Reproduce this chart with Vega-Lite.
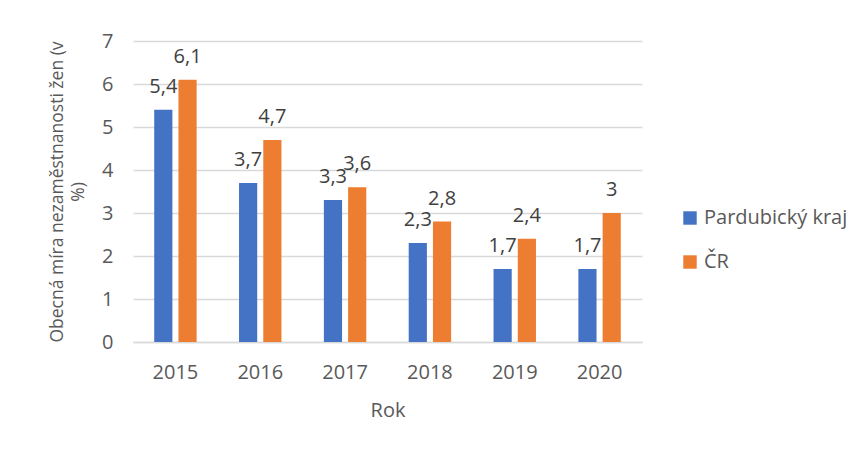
{
  "$schema": "https://vega.github.io/schema/vega-lite/v6.json",
  "autosize": "none",
  "width": 509,
  "height": 301,
  "padding": {"left": 133, "top": 41, "right": 221, "bottom": 110},
  "background": "white",
  "data": {
    "values": [
      {"rok": "2015", "serie": "Pardubický kraj", "hodnota": 5.4},
      {"rok": "2015", "serie": "ČR", "hodnota": 6.1},
      {"rok": "2016", "serie": "Pardubický kraj", "hodnota": 3.7},
      {"rok": "2016", "serie": "ČR", "hodnota": 4.7},
      {"rok": "2017", "serie": "Pardubický kraj", "hodnota": 3.3},
      {"rok": "2017", "serie": "ČR", "hodnota": 3.6},
      {"rok": "2018", "serie": "Pardubický kraj", "hodnota": 2.3},
      {"rok": "2018", "serie": "ČR", "hodnota": 2.8},
      {"rok": "2019", "serie": "Pardubický kraj", "hodnota": 1.7},
      {"rok": "2019", "serie": "ČR", "hodnota": 2.4},
      {"rok": "2020", "serie": "Pardubický kraj", "hodnota": 1.7},
      {"rok": "2020", "serie": "ČR", "hodnota": 3.0}
    ]
  },
  "encoding": {
    "x": {
      "field": "rok", "type": "nominal",
      "scale": {"paddingInner": 0.5, "paddingOuter": 0.25},
      "axis": {
        "title": "Rok", "labelAngle": 0, "ticks": false, "labelPadding": 20,
        "labelFontSize": 20, "labelColor": "#595959", "labelFont": "Open Sans",
        "titleFontSize": 20, "titleFont": "Open Sans", "titleFontWeight": "normal", "titleColor": "#595959",
        "titlePadding": 18, "domainColor": "#d9d9d9", "domainWidth": 1.5, "grid": false
      }
    },
    "xOffset": {
      "field": "serie", "type": "nominal",
      "scale": {"domain": ["Pardubický kraj", "ČR"], "paddingInner": 0.25}
    },
    "y": {
      "field": "hodnota", "type": "quantitative",
      "scale": {"domain": [0, 7], "nice": false},
      "axis": {
        "title": ["Obecná míra nezaměstnanosti žen (v", "%)"],
        "values": [0, 1, 2, 3, 4, 5, 6, 7], "labelOverlap": false,
        "ticks": false, "domain": false, "labelPadding": 20,
        "labelFontSize": 20, "labelColor": "#595959", "labelFont": "Open Sans",
        "titleFontSize": 17.5, "titleFont": "Open Sans", "titleFontWeight": "normal", "titleColor": "#595959",
        "titleLineHeight": 21, "titlePadding": 14,
        "gridColor": "#d9d9d9", "gridWidth": 1.5
      }
    }
  },
  "layer": [
    {
      "mark": {"type": "bar"},
      "encoding": {
        "color": {
          "field": "serie", "type": "nominal",
          "scale": {"domain": ["Pardubický kraj", "ČR"], "range": ["#4472C4", "#ED7D31"]},
          "legend": {
            "title": null, "orient": "none", "legendX": 547, "legendY": 167,
            "symbolType": "square", "symbolSize": 180, "symbolStrokeWidth": 0,
            "labelFontSize": 20, "labelFont": "Open Sans", "labelColor": "#595959",
            "rowPadding": 24, "labelOffset": 4
          }
        }
      }
    },
    {
      "mark": {"type": "text", "baseline": "alphabetic", "dy": -17, "fontSize": 20, "font": "Open Sans", "color": "#404040"},
      "encoding": {
        "text": {"field": "hodnota", "type": "quantitative", "format": ".1~f"}
      }
    }
  ],
  "config": {
    "view": {"stroke": null},
    "locale": {"number": {"decimal": ",", "thousands": " ", "grouping": [3], "currency": ["", " Kč"]}}
  }
}
